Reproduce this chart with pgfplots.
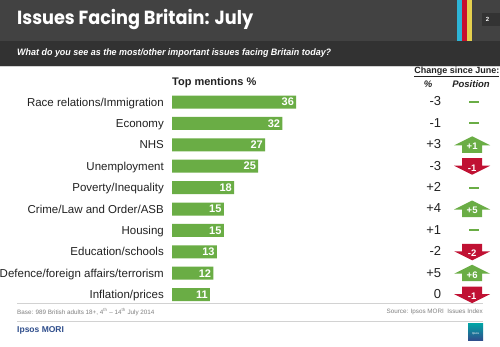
\documentclass[border=0pt]{standalone}
\usepackage{pgfplots}
\pgfplotsset{compat=1.18}
\usepackage{pgfplotstable}
\usepackage{graphicx}
\usepackage{fontspec}
\setmainfont{Liberation Sans}
\newfontfamily\titlefont{Poppins}
\definecolor{hdr}{HTML}{424242}
\definecolor{hdrdark}{HTML}{323232}
\definecolor{barGreen}{HTML}{6AAD45}
\definecolor{arrRed}{HTML}{C01133}
\definecolor{stcyan}{HTML}{2DB4D6}
\definecolor{stred}{HTML}{C8102E}
\definecolor{styel}{HTML}{E5D04E}
\definecolor{ipsosblue}{HTML}{2F4E8C}
\definecolor{txt}{HTML}{222222}

\pgfdeclareplotmark{uparr}{%
 \pgfpathmoveto{\pgfqpoint{0pt}{8.5pt}}%
 \pgfpathlineto{\pgfqpoint{18pt}{-0.5pt}}%
 \pgfpathlineto{\pgfqpoint{10pt}{-0.5pt}}%
 \pgfpathlineto{\pgfqpoint{10pt}{-8pt}}%
 \pgfpathlineto{\pgfqpoint{-10pt}{-8pt}}%
 \pgfpathlineto{\pgfqpoint{-10pt}{-0.5pt}}%
 \pgfpathlineto{\pgfqpoint{-18pt}{-0.5pt}}%
 \pgfpathclose\pgfusepathqfill}
\pgfdeclareplotmark{dnarr}{%
 \pgfpathmoveto{\pgfqpoint{0pt}{-8.5pt}}%
 \pgfpathlineto{\pgfqpoint{18pt}{0.5pt}}%
 \pgfpathlineto{\pgfqpoint{10pt}{0.5pt}}%
 \pgfpathlineto{\pgfqpoint{10pt}{8pt}}%
 \pgfpathlineto{\pgfqpoint{-10pt}{8pt}}%
 \pgfpathlineto{\pgfqpoint{-10pt}{0.5pt}}%
 \pgfpathlineto{\pgfqpoint{-18pt}{0.5pt}}%
 \pgfpathclose\pgfusepathqfill}
\pgfdeclareplotmark{flatdash}{%
 \pgfpathmoveto{\pgfqpoint{-3pt}{0pt}}%
 \pgfpathlineto{\pgfqpoint{7pt}{0pt}}%
 \pgfusepathqstroke}

\pgfplotstableread{
y v
0 36
1 32
2 27
3 25
4 18
5 15
6 15
7 13
8 12
9 11
}\bars

\pgfplotstableread{
x y lab
78 0 -3
78 1 -1
78 2 +3
78 3 -3
78 4 +2
78 5 +4
78 6 +1
78 7 -2
78 8 +5
78 9 0
}\chg

\pgfplotstableread{
x y cls
87 0 s
87 1 s
87 2 u
87 3 d
87 4 s
87 5 u
87 6 s
87 7 d
87 8 u
87 9 d
}\pos

\pgfplotstableread{
x y lab
87 2 +1
87 3 -1
87 5 +5
87 7 -2
87 8 +6
87 9 -1
}\arr

\begin{document}
\begin{tikzpicture}
\useasboundingbox (0,0) rectangle (500pt,-346pt);
\fill[white] (0,0) rectangle (500pt,-346pt);
% header
\fill[hdr] (0,0) rectangle (500pt,-41pt);
\fill[hdrdark] (0,-41pt) rectangle (500pt,-65.5pt);
\fill[gray!35] (0,-65.5pt) rectangle (500pt,-66.5pt);
\fill[stcyan] (456.7pt,0) rectangle (461.7pt,-41pt);
\fill[stred] (461.7pt,0) rectangle (466.7pt,-41pt);
\fill[styel] (466.7pt,0) rectangle (472.3pt,-41pt);
\fill[black!80] (481.7pt,-13pt) rectangle (500pt,-26pt);
\node[text=white, font=\bfseries\fontsize{6}{6}\selectfont] at (487.5pt,-19.5pt) {2};
\node[anchor=west, inner sep=0pt, text=white] at (17pt,-19.5pt)
  {\resizebox{236pt}{\height}{\titlefont\bfseries\fontsize{19}{19}\selectfont Issues Facing Britain: July}};
\node[anchor=west, inner sep=0pt, text=white] at (17pt,-53.5pt)
  {\resizebox{314pt}{\height}{\bfseries\itshape\fontsize{9.3}{9.3}\selectfont What do you see as the most/other important issues facing Britain today?}};
% column heads
\node[anchor=west, inner sep=0pt, text=txt, font=\bfseries\fontsize{11}{11}\selectfont] at (172pt,-83pt) {Top mentions \%};
\node[anchor=east, inner sep=0pt, text=txt, font=\bfseries\fontsize{9}{9}\selectfont] at (499.5pt,-72pt) {\underline{Change since June:}};
\node[inner sep=0pt, text=txt, font=\bfseries\itshape\fontsize{9.5}{9.5}\selectfont] at (428pt,-84pt) {\%};
\node[inner sep=0pt, text=txt, font=\bfseries\itshape\fontsize{9.5}{9.5}\selectfont] at (471pt,-84pt) {Position};
% footer
\draw[gray!35, line width=0.6pt] (17pt,-303.5pt) -- (483pt,-303.5pt);
\draw[gray!35, line width=0.6pt] (17pt,-321.7pt) -- (483pt,-321.7pt);
\node[anchor=west, inner sep=0pt, text=gray, font=\fontsize{6.3}{6.3}\selectfont] at (17pt,-312pt) {Base: 989 British adults 18+, 4\textsuperscript{th} -- 14\textsuperscript{th} July 2014};
\node[anchor=east, inner sep=0pt, text=gray, font=\fontsize{6.3}{6.3}\selectfont] at (483pt,-312pt) {Source: Ipsos MORI\ \ Issues Index};
\node[anchor=west, inner sep=0pt, text=ipsosblue, font=\bfseries\fontsize{8.5}{8.5}\selectfont] at (17pt,-330.5pt) {Ipsos MORI};
\shade[top color=teal!70!cyan, bottom color=ipsosblue] (468pt,-323pt) rectangle (483pt,-340pt);
\node[text=white, inner sep=0pt, font=\fontsize{3}{3}\selectfont] at (475.5pt,-334pt) {Ipsos};

\begin{axis}[
 at={(172pt,-91.3pt)}, anchor=north west,
 scale only axis, width=327.75pt, height=214pt,
 xmin=0, xmax=95, ymin=-0.5, ymax=9.5, y dir=reverse,
 axis line style={draw=none}, xtick=\empty, ytick={0,...,9},
 yticklabels={Race relations/Immigration, Economy, NHS, Unemployment, Poverty/Inequality, Crime/Law and Order/ASB, Housing, Education/schools, Defence/foreign affairs/terrorism, Inflation/prices},
 major tick length=0pt, tick style={draw=none},
 yticklabel style={font=\fontsize{11.5}{12}\selectfont, text=txt, inner sep=0pt, xshift=-8pt, yshift=-4.1pt, anchor=base east},
 clip=false,
 /pgf/number format/assume math mode=true,
]
\addplot[xbar, bar width=13pt, fill=barGreen, draw=none, point meta=x,
  nodes near coords={\llap{\pgfmathprintnumber{\pgfplotspointmeta}\hspace{3pt}}},
  nodes near coords style={font=\bfseries\fontsize{11}{11}\selectfont, text=white, inner sep=0pt}]
  table[x=v,y=y]{\bars};
\addplot[draw=none, mark=none, point meta=explicit symbolic,
  nodes near coords={\llap{\smash{\raisebox{-4.65pt}{\pgfplotspointmeta}}}},
  every node near coord/.append style={font=\fontsize{13}{13}\selectfont, text=txt, inner sep=0pt}]
  table[x=x,y=y,meta=lab]{\chg};
\addplot[scatter, only marks, scatter src=explicit symbolic,
  scatter/classes={s={mark=flatdash, draw=barGreen, line width=2pt},
                   u={mark=uparr, fill=barGreen, draw=barGreen},
                   d={mark=dnarr, fill=arrRed, draw=arrRed}}]
  table[x=x,y=y,meta=cls]{\pos};
\addplot[draw=none, mark=none, point meta=explicit symbolic,
  nodes near coords={\makebox[0pt]{\smash{\raisebox{-5.6pt}{\pgfplotspointmeta}}}},
  every node near coord/.append style={font=\bfseries\fontsize{9.5}{9.5}\selectfont, text=white, inner sep=0pt}]
  table[x=x,y=y,meta=lab]{\arr};
\end{axis}
\end{tikzpicture}
\end{document}
